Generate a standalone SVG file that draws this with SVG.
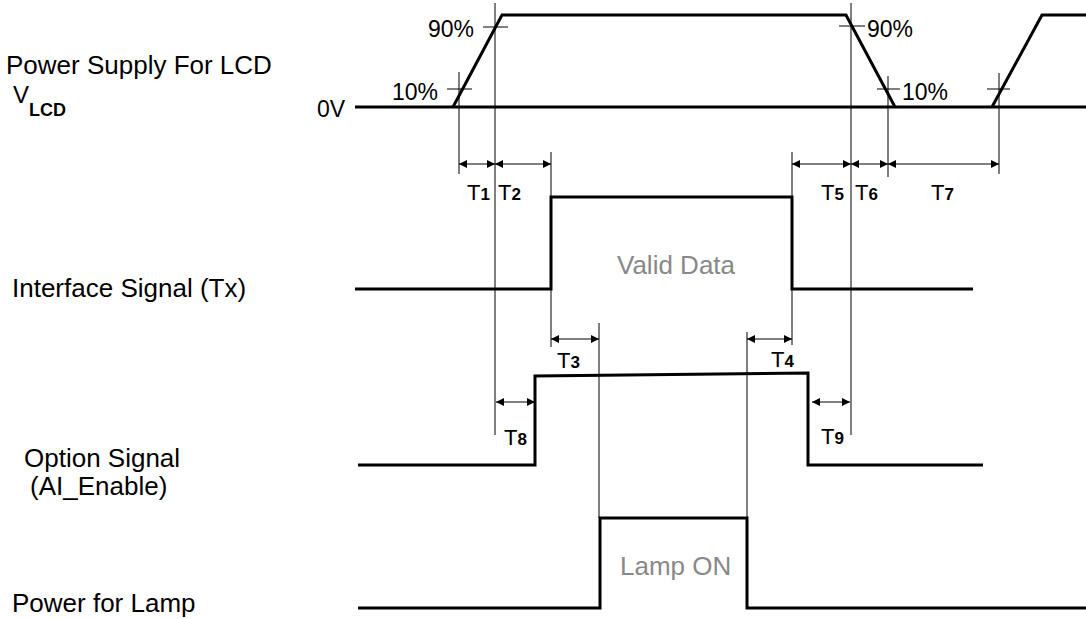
<svg xmlns="http://www.w3.org/2000/svg" width="1086" height="619" viewBox="0 0 1086 619">
<defs>
<marker id="ah" viewBox="0 0 10 10" refX="10" refY="5" markerWidth="9" markerHeight="8" markerUnits="userSpaceOnUse" orient="auto-start-reverse">
<path d="M0,0 L10,5 L0,10 Z" fill="#000"/>
</marker>
<style>
.sig{fill:none;stroke:#000;stroke-width:3;stroke-linejoin:miter}
.thin{fill:none;stroke:#000;stroke-width:1}
.dim{fill:none;stroke:#000;stroke-width:1;marker-start:url(#ah);marker-end:url(#ah)}
text{font-family:"Liberation Sans",Arial,sans-serif;fill:#000}
.lbl{font-size:26px}
.pct{font-size:23px}
.gray{font-size:26px;fill:#888}
.t{font-size:22px}
.sub{font-size:17px;font-weight:bold}
</style>
</defs>
<rect width="1086" height="619" fill="#fff"/>

<g id="vlcd">
<text class="lbl" x="6" y="74">Power Supply For LCD</text>
<text x="13" y="103" style="font-size:24px">V</text>
<text x="29" y="116" style="font-size:18px;font-weight:bold">LCD</text>
<text class="pct" x="317" y="117">0V</text>
<line class="sig" x1="355" y1="107" x2="1086" y2="107"/>
<polyline class="sig" points="453,107 502,15 846,15 895,107"/>
<polyline class="sig" points="992,107 1042,15 1086,15"/>
<text class="pct" x="392" y="100">10%</text>
<text class="pct" x="428" y="37">90%</text>
<text class="pct" x="867" y="37">90%</text>
<text class="pct" x="902" y="100">10%</text>
<line class="thin" x1="447" y1="89" x2="472" y2="89"/>
<line class="thin" x1="483" y1="27" x2="508" y2="27"/>
<line class="thin" x1="839" y1="26" x2="865" y2="26"/>
<line class="thin" x1="877" y1="89" x2="900" y2="89"/>
<line class="thin" x1="987" y1="89" x2="1010" y2="89"/>
</g>

<g id="tx">
<text class="lbl" x="12" y="297">Interface Signal (Tx)</text>
<polyline class="sig" points="355,289 551,289 551,197 792,197 792,289 973,289"/>
<text class="gray" x="617" y="274">Valid Data</text>
</g>

<g id="option">
<text class="lbl" x="24" y="467">Option Signal</text>
<text class="lbl" x="30" y="495">(AI_Enable)</text>
<polyline class="sig" points="358,465 535,465 535,376 808,373 808,465 983,465"/>
</g>

<g id="lamp">
<text class="lbl" x="12" y="612">Power for Lamp</text>
<polyline class="sig" points="358,608 600,608 600,518 747,518 747,608 1086,608"/>
<text class="gray" x="620" y="575">Lamp ON</text>
</g>

<g id="connectors">
<line class="thin" x1="459" y1="72" x2="459" y2="174"/>
<line class="thin" x1="495" y1="3" x2="495" y2="435"/>
<line class="thin" x1="851" y1="3" x2="851" y2="435"/>
<line class="thin" x1="888" y1="76" x2="888" y2="177"/>
<line class="thin" x1="999" y1="73" x2="999" y2="174"/>
<line class="thin" x1="551" y1="152" x2="551" y2="347"/>
<line class="thin" x1="792" y1="152" x2="792" y2="345"/>
<line class="thin" x1="599" y1="323" x2="599" y2="518"/>
<line class="thin" x1="747" y1="332" x2="747" y2="518"/>
<line class="dim" x1="459" y1="164" x2="495" y2="164"/>
<line class="dim" x1="495" y1="164" x2="551" y2="164"/>
<line class="dim" x1="792" y1="164" x2="851" y2="164"/>
<line class="dim" x1="851" y1="164" x2="888" y2="164"/>
<line class="dim" x1="888" y1="164" x2="999" y2="164"/>
<line class="dim" x1="551" y1="339" x2="599" y2="339"/>
<line class="dim" x1="747" y1="339" x2="792" y2="339"/>
<line class="dim" x1="496" y1="402" x2="535" y2="402"/>
<line class="dim" x1="812" y1="402" x2="850" y2="402"/>
</g>

<g id="tlabels">
<text class="t" x="467" y="200">T<tspan class="sub">1</tspan></text>
<text class="t" x="498" y="200">T<tspan class="sub">2</tspan></text>
<text class="t" x="821" y="200">T<tspan class="sub">5</tspan></text>
<text class="t" x="855" y="200">T<tspan class="sub">6</tspan></text>
<text class="t" x="931" y="200">T<tspan class="sub">7</tspan></text>
<text class="t" x="557" y="368">T<tspan class="sub">3</tspan></text>
<text class="t" x="771" y="367">T<tspan class="sub">4</tspan></text>
<text class="t" x="504" y="445">T<tspan class="sub">8</tspan></text>
<text class="t" x="821" y="444">T<tspan class="sub">9</tspan></text>
</g>
</svg>
